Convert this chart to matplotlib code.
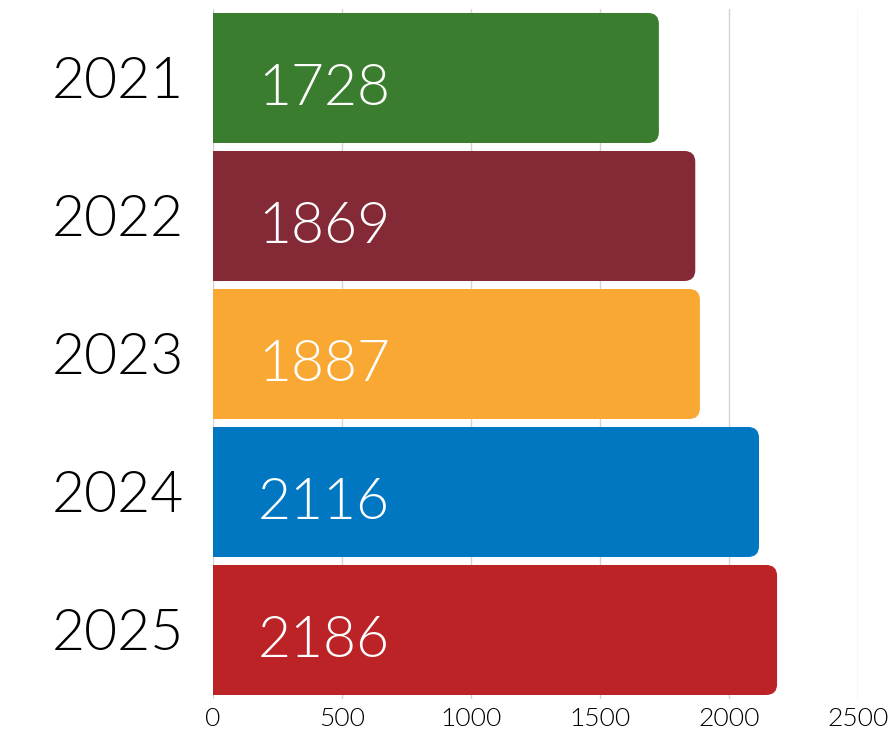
import matplotlib.pyplot as plt
from matplotlib.patches import FancyBboxPatch

years = ["2021", "2022", "2023", "2024", "2025"]
values = [1728, 1869, 1887, 2116, 2186]
colors = ["#3a7d2e", "#842a37", "#f9a834", "#0077c0", "#bc2327"]
xticks = [0, 500, 1000, 1500, 2000, 2500]

plt.rcParams["font.family"] = ["Lato", "DejaVu Sans"]


def main():
    fig = plt.figure(figsize=(8.96, 7.31), dpi=100)
    ax = fig.add_axes([0.2377, 0.0438, 0.72, 0.9439])

    ax.set_xlim(0, 2500)
    ax.set_ylim(len(years) - 0.5, -0.5)

    # rounding radius in x units; aspect keeps the corners circular on screen
    bar_h = 0.942
    radius = 42
    px_x = 2500 / (0.72 * 896)
    px_y = len(years) / (0.9439 * 731)
    aspect = px_y / px_x

    for i, (v, c) in enumerate(zip(values, colors)):
        # square left part, rounded right end
        ax.barh(i, v - radius, height=bar_h, color=c, zorder=2)
        patch = FancyBboxPatch((0, i - bar_h / 2), v, bar_h,
                               boxstyle=f"round,pad=0,rounding_size={radius}",
                               mutation_aspect=aspect,
                               facecolor=c, edgecolor="none", zorder=2)
        ax.add_patch(patch)
        ax.text(175, i + 0.08, str(v), color="white", fontsize=41,
                va="center", ha="left", zorder=3, fontweight=300)

    ax.set_yticks(range(len(years)))
    ax.set_yticklabels(years, fontsize=41, fontweight=300)
    ax.set_xticks(xticks)
    ax.set_xticklabels([str(t) for t in xticks], fontsize=19, fontweight=300)
    ax.tick_params(length=0)
    ax.tick_params(axis="y", pad=21)
    ax.tick_params(axis="x", pad=6)

    ax.grid(axis="x", color="#d4d4d4", linewidth=1, zorder=0)
    ax.set_axisbelow(True)
    for s in ax.spines.values():
        s.set_visible(False)

    plt.savefig("out.png", dpi=100)


if __name__ == "__main__":
    main()
